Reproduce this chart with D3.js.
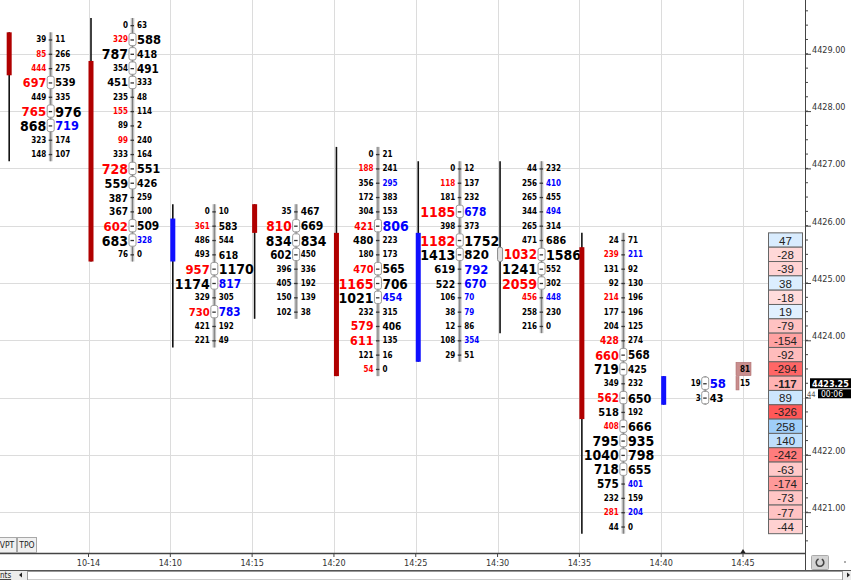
<!DOCTYPE html>
<html>
<head>
<meta charset="utf-8" />
<script src="https://cdn.jsdelivr.net/npm/d3@7"></script>
<style>
body { margin: 0; background: #fff; }
svg { display: block; font-family: "DejaVu Sans Condensed", "DejaVu Sans", sans-serif; font-stretch: condensed; }
.grid line { stroke: #dcdcdc; stroke-width: 1; }
.vol { font-weight: bold; dominant-baseline: central; }
.axis-text { font-size: 9px; fill: #333; }
.delta-text { font-family: "Liberation Sans", Arial, sans-serif; font-size: 11.5px; fill: #222; dominant-baseline: central; text-anchor: middle; }
</style>
</head>
<body>
<svg id="chart" width="851" height="580"></svg>
<script>
var W = 851, H = 580;
var plotRight = 805, axisY = 553;

// 5 minute bars
var barTimes  = ["14:00", "14:05", "14:10", "14:15", "14:20", "14:25", "14:30", "14:35", "14:40"];
var barOpen   = [4429.25, 4428.75, 4425.50, 4426.25, 4425.75, 4423.75, 4425.50, 4425.50, 4423.00];
var barClose  = [4428.75, 4425.50, 4426.00, 4426.00, 4423.50, 4425.75, 4425.50, 4422.75, 4423.25];
var ladderTop = [4429.25, 4429.50, 4426.25, 4426.25, 4427.25, 4427.00, 4427.00, 4425.75, 4423.25];

// bid x ask per price, from the top of each bar down
var bidVol = [
  [39, 85, 444, 697, 449, 765, 868, 323, 148],
  [0, 329, 787, 354, 451, 235, 155, 89, 99, 333, 728, 559, 387, 367, 602, 683, 76],
  [0, 361, 486, 493, 957, 1174, 329, 730, 421, 221],
  [35, 810, 834, 602, 396, 405, 150, 102],
  [0, 188, 356, 172, 304, 421, 480, 180, 470, 1165, 1021, 232, 579, 611, 121, 54],
  [0, 118, 181, 1185, 398, 1182, 1413, 619, 522, 106, 38, 12, 108, 29],
  [44, 256, 265, 344, 265, 471, 1032, 1241, 2059, 456, 258, 216],
  [24, 239, 131, 92, 214, 177, 204, 428, 660, 719, 349, 562, 518, 408, 795, 1040, 718, 575, 232, 281, 44],
  [19, 3]
];
var askVol = [
  [11, 266, 275, 539, 335, 976, 719, 174, 107],
  [63, 588, 418, 491, 333, 48, 114, 2, 240, 164, 551, 426, 259, 100, 509, 328, 0],
  [10, 583, 544, 618, 1170, 817, 305, 783, 192, 49],
  [467, 669, 834, 450, 336, 192, 139, 38],
  [21, 241, 295, 383, 153, 806, 223, 173, 565, 706, 454, 315, 406, 135, 16, 0],
  [12, 137, 232, 678, 373, 1752, 820, 792, 670, 70, 79, 86, 354, 51],
  [232, 410, 455, 494, 314, 686, 1586, 552, 302, 448, 230, 0],
  [71, 211, 92, 130, 196, 196, 125, 274, 568, 425, 232, 650, 192, 666, 935, 798, 655, 401, 159, 204, 0],
  [58, 43]
];

// bar in progress
var liveTime = "14:45";
var livePrices = [4423.50, 4423.25];
var liveVol = [81, 15];

// delta column on the right
var deltaTop = 4425.75;
var deltaVals = [47, -28, -39, 38, -18, 19, -79, -154, -92, -294, -117, 89, -326, 258, 140, -242, -63, -174, -73, -77, -44];

var lastPrice = 4423.25;
var timerText = "00:06";
var priceTicks = [4421, 4422, 4423, 4424, 4425, 4426, 4427, 4428, 4429];
var timeTicks  = ["14:05", "14:10", "14:15", "14:20", "14:25", "14:30", "14:35", "14:40", "14:45"];
var timeLabels = ["10-14", "14:10", "14:15", "14:20", "14:25", "14:30", "14:35", "14:40", "14:45"];

var TICK = 0.25;
var parseT = d3.timeParse("%H:%M");

var y = d3.scaleLinear().domain([4420, 4430]).range([283 + 5 * 57.3, 283 - 5 * 57.3]);
var x = d3.scaleTime().domain([parseT("14:05"), parseT("14:45")]).range([88.5, 743]);
var rowH = y(0) - y(TICK);

var svg = d3.select("#chart");

// grid
var grid = svg.append("g").attr("class", "grid");
grid.selectAll("line.h").data(priceTicks).enter().append("line")
  .attr("x1", 0).attr("x2", plotRight)
  .attr("y1", function(d) { return Math.round(y(d)) + 0.5; })
  .attr("y2", function(d) { return Math.round(y(d)) + 0.5; });
grid.selectAll("line.v").data(timeTicks).enter().append("line")
  .attr("x1", function(d) { return Math.round(x(parseT(d))) + 0.5; })
  .attr("x2", function(d) { return Math.round(x(parseT(d))) + 0.5; })
  .attr("y1", 0).attr("y2", axisY);

function fontSize(v, mean) {
  var r = v / mean;
  return r < 1.13 ? 8 : Math.min(14, 10 + (r - 1.13) * 4);
}

var bars = svg.append("g");

barTimes.forEach(function(t, i) {
  var x0 = x(parseT(t));
  var cx = x0 + 44;
  var bids = bidVol[i], asks = askVol[i];
  var n = bids.length;
  var hi = ladderTop[i], lo = hi - (n - 1) * TICK;
  var prices = d3.range(n).map(function(k) { return hi - k * TICK; });
  var all = bids.concat(asks);
  var mean = d3.mean(all);
  var rowMax = d3.max(prices, function(p, k) { return bids[k] + asks[k]; });
  var g = bars.append("g");

  // candle
  var kx = x0 + 2.5;
  g.append("line")
    .attr("x1", kx).attr("x2", kx)
    .attr("y1", y(hi) - rowH / 2).attr("y2", y(lo) + rowH / 2)
    .attr("stroke", "#111").attr("stroke-width", 1.6);
  var o = barOpen[i], c = barClose[i];
  var top = Math.max(o, c), bot = Math.min(o, c);
  var body = g.append("rect")
    .attr("x", kx - 2.5).attr("width", 5)
    .attr("y", y(top) - rowH / 2)
    .attr("height", y(bot) - y(top) + rowH);
  if (c > o) body.attr("fill", "#1010ff");
  else if (c < o) body.attr("fill", "#b00000");
  else body.attr("fill", "#e2e2e2").attr("stroke", "#8a8a8a").attr("rx", 2);

  // profile strip
  g.append("rect")
    .attr("x", cx - 1.8).attr("width", 3.6)
    .attr("y", y(hi) - rowH / 2).attr("height", y(lo) - y(hi) + rowH)
    .attr("fill", "#c4c4c4");
  g.append("line")
    .attr("x1", cx).attr("x2", cx)
    .attr("y1", y(hi) - rowH / 2).attr("y2", y(lo) + rowH / 2)
    .attr("stroke", "#7c7c7c").attr("stroke-width", 1);

  g.selectAll("rect.hv").data(prices.filter(function(p, k) { return (bids[k] + asks[k]) / rowMax >= 0.55; }))
    .enter().append("rect")
    .attr("x", cx - 3.5).attr("width", 7)
    .attr("y", function(p) { return y(p) - rowH / 2 + 1; })
    .attr("height", rowH - 2).attr("rx", 2)
    .attr("fill", "#fff").attr("stroke", "#9a9a9a");

  g.selectAll("line.dash").data(prices).enter().append("line")
    .attr("x1", cx - 2).attr("x2", cx + 1.5)
    .attr("y1", function(p) { return y(p) + 0.5; })
    .attr("y2", function(p) { return y(p) + 0.5; })
    .attr("stroke", "#333").attr("stroke-width", 1.3);

  // bid side, red if it beats the ask one tick higher by 1.5x
  g.selectAll("text.bid").data(prices).enter().append("text")
    .attr("class", "vol")
    .attr("x", cx - 4.5).attr("y", function(p) { return y(p) + 0.5; })
    .attr("text-anchor", "end")
    .style("font-size", function(p, k) { return fontSize(bids[k], mean) + "px"; })
    .attr("fill", function(p, k) { return k > 0 && bids[k] > 1.5 * asks[k - 1] ? "#ff0000" : "#000"; })
    .text(function(p, k) { return bids[k]; });

  // ask side, blue if it beats the bid one tick lower by 1.5x
  g.selectAll("text.ask").data(prices).enter().append("text")
    .attr("class", "vol")
    .attr("x", cx + 4.5).attr("y", function(p) { return y(p) + 0.5; })
    .attr("text-anchor", "start")
    .style("font-size", function(p, k) { return fontSize(asks[k], mean) + "px"; })
    .attr("fill", function(p, k) { return k < n - 1 && asks[k] > 1.5 * bids[k + 1] ? "#0000ff" : "#000"; })
    .text(function(p, k) { return asks[k]; });
});

// live bar
var lx = x(parseT(liveTime)) - 7;
var vw = d3.scaleLinear().domain([0, d3.max(liveVol)]).range([0, 15]);
var live = svg.append("g");
live.selectAll("rect").data(livePrices).enter().append("rect")
  .attr("x", lx).attr("y", function(p) { return y(p) - rowH / 2 + 0.5; })
  .attr("width", function(p, k) { return Math.max(3, vw(liveVol[k])); })
  .attr("height", rowH - 1)
  .attr("fill", "#c98e8e").attr("stroke", "#b07070").attr("stroke-width", 0.6);
live.selectAll("text").data(livePrices).enter().append("text")
  .attr("class", "vol").style("font-size", "8px")
  .attr("x", lx + 4).attr("y", function(p) { return y(p) + 0.5; })
  .text(function(p, k) { return liveVol[k]; });

// delta column
var dMax = d3.max(deltaVals, function(d) { return Math.abs(d); });
var posColor = d3.interpolateRgb("#e6f3ff", "#8cc4f8");
var negColor = d3.interpolateRgb("#ffe4e4", "#ff5858");
var dg = svg.append("g");
var dPrices = deltaVals.map(function(d, k) { return deltaTop - k * TICK; });
dg.selectAll("rect").data(deltaVals).enter().append("rect")
  .attr("x", 768.5).attr("width", 34)
  .attr("y", function(d, k) { return y(dPrices[k]) - rowH / 2; })
  .attr("height", rowH)
  .attr("fill", function(d) { return d >= 0 ? posColor(d / dMax) : negColor(-d / dMax); })
  .attr("stroke", "#666").attr("stroke-width", 1);
dg.selectAll("text").data(deltaVals).enter().append("text")
  .attr("class", "delta-text")
  .attr("x", 785.5).attr("y", function(d, k) { return y(dPrices[k]) + 0.5; })
  .style("font-weight", function(d, k) { return dPrices[k] === lastPrice ? "bold" : "normal"; })
  .text(function(d) { return d; });

// price axis
var ax = svg.append("g");
ax.append("line").attr("x1", plotRight + 0.5).attr("x2", plotRight + 0.5)
  .attr("y1", 0).attr("y2", 570).attr("stroke", "#444");
var minor = d3.range(4420.5, 4429.76, TICK);
ax.selectAll("line.mt").data(minor).enter().append("line")
  .attr("x1", plotRight).attr("x2", plotRight + 3)
  .attr("y1", function(d) { return y(d); }).attr("y2", function(d) { return y(d); })
  .attr("stroke", "#444");
ax.selectAll("line.Mt").data(priceTicks).enter().append("line")
  .attr("x1", plotRight).attr("x2", plotRight + 6)
  .attr("y1", function(d) { return y(d) + 0.5; }).attr("y2", function(d) { return y(d) + 0.5; })
  .attr("stroke", "#444");
// the 4423.00 label sits under the timer, only its first digits peek out
ax.selectAll("text").data(priceTicks.filter(function(d) { return d !== 4423; })).enter().append("text")
  .attr("class", "axis-text")
  .attr("x", plotRight + 7).attr("y", function(d) { return y(d) - 1; })
  .text(function(d) { return d3.format(".2f")(d); });

// last price and timer
var ly = y(lastPrice);
ax.append("rect").attr("x", 810).attr("y", ly - 5).attr("width", 41).attr("height", 10).attr("fill", "#000");
ax.append("text").attr("x", 812).attr("y", ly + 3.5).attr("fill", "#fff")
  .style("font-size", "9px").style("font-weight", "bold").text(d3.format(".2f")(lastPrice));
ax.append("text").attr("x", 807).attr("y", ly + 13.5).attr("fill", "#555")
  .style("font-size", "7.5px").text(String(4423).slice(0, 2));
ax.append("rect").attr("x", 818).attr("y", ly + 6).attr("width", 33).attr("height", 9).attr("fill", "#000");
ax.append("text").attr("x", 821).attr("y", ly + 13.5).attr("fill", "#fff")
  .style("font-size", "8.5px").text(timerText);

// time axis
var tx = svg.append("g");
tx.append("line").attr("x1", 0).attr("x2", plotRight).attr("y1", axisY + 0.5).attr("y2", axisY + 0.5)
  .attr("stroke", "#444").attr("stroke-width", 1.5);
tx.selectAll("line.tk").data(timeTicks).enter().append("line")
  .attr("x1", function(d) { return x(parseT(d)); }).attr("x2", function(d) { return x(parseT(d)); })
  .attr("y1", axisY).attr("y2", axisY + 4).attr("stroke", "#444");
tx.selectAll("text").data(timeTicks).enter().append("text")
  .attr("class", "axis-text").attr("text-anchor", "middle")
  .attr("x", function(d) { return x(parseT(d)); }).attr("y", axisY + 13)
  .text(function(d, k) { return timeLabels[k]; });
var mx = x(parseT(liveTime));
tx.append("path").attr("d", "M" + (mx - 2.5) + "," + axisY + "L" + mx + "," + (axisY - 4) + "L" + (mx + 2.5) + "," + axisY + "Z")
  .attr("fill", "#222");

// tabs
var tabs = svg.append("g");
[["VPT", -3, 19], ["TPO", 17, 19]].forEach(function(t) {
  tabs.append("rect").attr("x", t[1] + 0.5).attr("y", 537.5).attr("width", t[2]).attr("height", 15)
    .attr("fill", "#f0f0f0").attr("stroke", "#a8a8a8");
  tabs.append("text").attr("x", t[1] + t[2] / 2 + 0.5).attr("y", 548).attr("text-anchor", "middle")
    .style("font-size", "8.5px").attr("fill", "#222").text(t[0]);
});

// bottom scrollbar
var sb = svg.append("g");
sb.append("rect").attr("x", 0).attr("y", 570).attr("width", W).attr("height", 10).attr("fill", "#ececec");
sb.append("line").attr("x1", 0).attr("x2", W).attr("y1", 570.5).attr("y2", 570.5).attr("stroke", "#555");
sb.append("rect").attr("x", 27.5).attr("y", 571.5).attr("width", 815).attr("height", 8.5)
  .attr("fill", "#fff").attr("stroke", "#999");
sb.append("text").attr("x", 0).attr("y", 578).style("font-size", "8px").attr("fill", "#222")
  .attr("text-decoration", "underline").text("nts");
sb.append("path").attr("d", "M19,575L22,572.5L22,577.5Z").attr("fill", "#222");
sb.append("path").attr("d", "M850,575L847,572.5L847,577.5Z").attr("fill", "#222");

// refresh button
var rb = svg.append("g");
rb.append("rect").attr("x", 811.5).attr("y", 555.5).attr("width", 17).attr("height", 14)
  .attr("fill", "#d4d4d4").attr("stroke", "#aaa").attr("rx", 1);
rb.append("path").attr("d", d3.arc()({ innerRadius: 3, outerRadius: 4.6, startAngle: 0.5, endAngle: 5.9 }))
  .attr("transform", "translate(820,562.5)").attr("fill", "#444");
rb.append("circle").attr("cx", 845).attr("cy", 562).attr("r", 0.8).attr("fill", "#444");
</script>
</body>
</html>
